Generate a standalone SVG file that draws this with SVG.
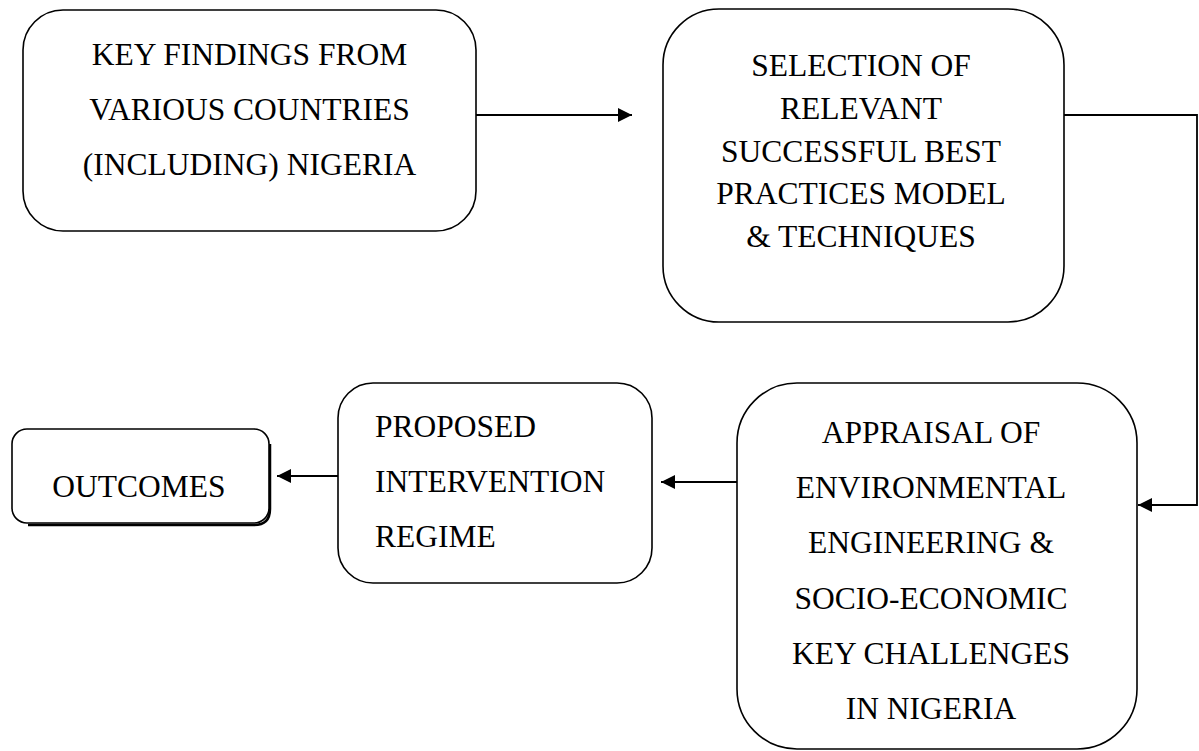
<svg xmlns="http://www.w3.org/2000/svg" width="1199" height="751" viewBox="0 0 1199 751">
<style>
.box{fill:#fff;stroke:#000;stroke-width:1.6}
.t{font-family:"Liberation Serif","Times New Roman",serif;font-size:31.5px;fill:#000}
.c{text-anchor:middle}
.conn{fill:none;stroke:#000;stroke-width:1.8}
</style>
<defs>
<marker id="ah" viewBox="0 0 10 10" refX="10" refY="5" markerWidth="16" markerHeight="14" markerUnits="userSpaceOnUse" orient="auto">
<path d="M0,0 L10,5 L0,10 Z" fill="#000"/>
</marker>
</defs>
<rect width="1199" height="751" fill="#fff"/>
<g id="connectors">
<path class="conn" d="M474,115 H632" marker-end="url(#ah)"/>
<path class="conn" d="M1060,115 H1197 V505 H1138" marker-end="url(#ah)"/>
<path class="conn" d="M737,482 H661" marker-end="url(#ah)"/>
<path class="conn" d="M338,476 H277" marker-end="url(#ah)"/>
</g>
<g id="node-findings">
<rect class="box" x="23" y="10" width="453" height="221" rx="40" ry="40"/>
<text class="t c" x="249.5" y="65">KEY FINDINGS FROM</text>
<text class="t c" x="249.5" y="120">VARIOUS COUNTRIES</text>
<text class="t c" x="249.5" y="175">(INCLUDING) NIGERIA</text>
</g>
<g id="node-selection">
<rect class="box" x="663" y="9" width="401" height="313" rx="56" ry="56"/>
<text class="t c" x="861" y="76">SELECTION OF</text>
<text class="t c" x="861" y="119">RELEVANT</text>
<text class="t c" x="861" y="162">SUCCESSFUL BEST</text>
<text class="t c" x="861" y="204">PRACTICES MODEL</text>
<text class="t c" x="861" y="247">&amp; TECHNIQUES</text>
</g>
<g id="node-appraisal">
<rect class="box" x="737" y="383" width="400" height="366" rx="60" ry="60"/>
<text class="t c" x="931" y="443">APPRAISAL OF</text>
<text class="t c" x="931" y="498">ENVIRONMENTAL</text>
<text class="t c" x="931" y="553">ENGINEERING &amp;</text>
<text class="t c" x="931" y="609">SOCIO-ECONOMIC</text>
<text class="t c" x="931" y="664">KEY CHALLENGES</text>
<text class="t c" x="931" y="719">IN NIGERIA</text>
</g>
<g id="node-proposed">
<rect class="box" x="338" y="383" width="314" height="200" rx="35" ry="35"/>
<text class="t" x="375" y="437">PROPOSED</text>
<text class="t" x="375" y="492">INTERVENTION</text>
<text class="t" x="375" y="547">REGIME</text>
</g>
<g id="node-outcomes">
<path d="M270,444 V509 Q270,525 254,525 H28" fill="none" stroke="#000" stroke-width="2.5"/>
<rect class="box" x="12" y="429" width="257" height="94" rx="15" ry="15"/>
<text class="t c" x="139" y="497">OUTCOMES</text>
</g>
</svg>
